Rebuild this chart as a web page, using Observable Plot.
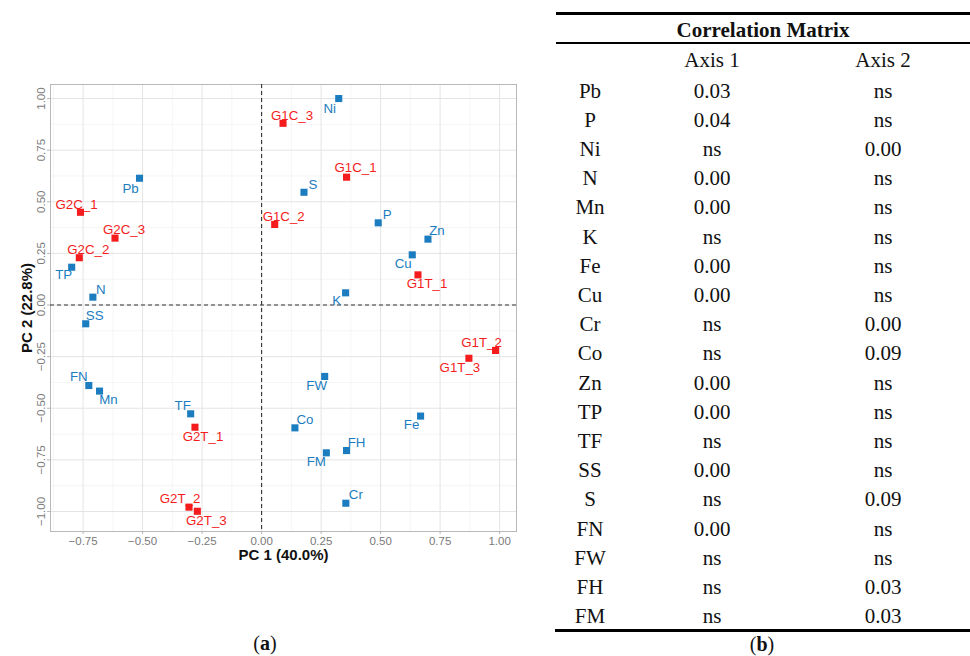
<!DOCTYPE html>
<html><head><meta charset="utf-8">
<script src="https://cdn.jsdelivr.net/npm/d3@7"></script>
<script src="https://cdn.jsdelivr.net/npm/@observablehq/plot@0.6"></script>
<style>
body{margin:0;background:#fff;}
#wrap{position:relative;width:970px;height:656px;overflow:hidden;font-family:"Liberation Serif","Times New Roman",serif;color:#111;}
#chart{position:absolute;left:0;top:0;}
.rule{position:absolute;background:#000;}
.cell{position:absolute;height:26px;line-height:26px;text-align:center;font-size:21px;white-space:nowrap;}
.cap{position:absolute;width:80px;height:26px;line-height:26px;text-align:center;font-size:20px;}
</style></head><body>
<div id="wrap"><div id="chart"></div></div>
<script>
// ---- PCA biplot data ----
const varNames = ["Ni","Pb","S","P","Zn","Cu","K","TP","N","SS","FN","Mn","TF","FW","Co","FH","FM","Cr","Fe"];
const varPC1   = [0.324,-0.513,0.178,0.490,0.699,0.633,0.353,-0.798,-0.709,-0.739,-0.726,-0.681,-0.298,0.265,0.140,0.357,0.272,0.354,0.668];
const varPC2   = [1.000,0.614,0.546,0.398,0.319,0.243,0.059,0.183,0.038,-0.091,-0.390,-0.417,-0.527,-0.346,-0.595,-0.705,-0.716,-0.960,-0.538];

const sampleNames = ["G1C_3","G1C_1","G1C_2","G1T_1","G2C_1","G2C_3","G2C_2","G2T_1","G2T_2","G2T_3","G1T_2","G1T_3"];
const samplePC1   = [0.090,0.357,0.055,0.657,-0.761,-0.616,-0.766,-0.280,-0.305,-0.270,0.983,0.871];
const samplePC2   = [0.880,0.619,0.390,0.146,0.449,0.324,0.229,-0.592,-0.979,-0.999,-0.220,-0.258];

const axisXTitle = "PC 1 (40.0%)";
const axisYTitle = "PC 2 (22.8%)";
const majorTicksX = [-0.75,-0.5,-0.25,0,0.25,0.5,0.75,1];
const majorTicksY = [-1,-0.75,-0.5,-0.25,0,0.25,0.5,0.75,1];
const minorTicks  = [-0.875,-0.625,-0.375,-0.125,0.125,0.375,0.625,0.875];

// ---- Correlation table data ----
const tableTitle = "Correlation Matrix";
const tableHeader = ["", "Axis 1", "Axis 2"];
const rowNames = ["Pb","P","Ni","N","Mn","K","Fe","Cu","Cr","Co","Zn","TP","TF","SS","S","FN","FW","FH","FM"];
const axis1Col = ["0.03","0.04","ns","0.00","0.00","ns","0.00","0.00","ns","ns","0.00","0.00","ns","0.00","ns","0.00","ns","ns","ns"];
const axis2Col = ["ns","ns","0.00","ns","ns","ns","ns","ns","0.00","0.09","ns","ns","ns","ns","0.09","ns","ns","0.03","0.03"];

// ---- label placement (pixel nudges, layout only) ----
const labelNudge = {
  Ni:[-9,10], Pb:[-9,10], S:[9,-8], P:[9,-8], Zn:[9,-8], Cu:[-9,9], K:[-9,8], TP:[-8,8],
  N:[8,-7], SS:[9,-8], FN:[-10,-9], Mn:[9,9], TF:[-8,-8], FW:[-8,9], Co:[10,-8], FH:[10,-8],
  FM:[-10,9], Cr:[10,-8], Fe:[-9,9],
  G1C_3:[9,-8], G1C_1:[9,-9], G1C_2:[9,-8], G1T_1:[9,9], G2C_1:[-4,-8], G2C_3:[9,-8],
  G2C_2:[9,-8], G2T_1:[8,9], G2T_2:[-9,-8], G2T_3:[9,9], G1T_2:[-14,-8], G1T_3:[-9,9]
};

const BLUE = "#1b7dc0", RED = "#f41c1c";
const vars = varNames.map((n,i)=>({name:n, pc1:varPC1[i], pc2:varPC2[i], col:BLUE}));
const samples = sampleNames.map((n,i)=>({name:n, pc1:samplePC1[i], pc2:samplePC2[i], col:RED}));
const all = [...vars, ...samples];

const labelMarks = all.map(d => Plot.text([d], {
  x:"pc1", y:"pc2", text:"name", fill:d.col, fontSize:13.3,
  dx:labelNudge[d.name][0], dy:labelNudge[d.name][1]
}));

const chart = Plot.plot({
  width:540, height:600,
  marginLeft:50, marginRight:24, marginTop:84, marginBottom:69,
  x:{domain:[-0.887,1.071], label:null},
  y:{domain:[-1.097,1.068], label:null},
  style:{fontFamily:"'Liberation Sans', Arial, sans-serif", background:"#fff", overflow:"visible"},
  marks:[
    Plot.gridX(minorTicks, {stroke:"#f1f1f1", strokeOpacity:1, strokeWidth:0.7}),
    Plot.gridY(minorTicks, {stroke:"#f1f1f1", strokeOpacity:1, strokeWidth:0.7}),
    Plot.gridX(majorTicksX, {stroke:"#e4e4e4", strokeOpacity:1, strokeWidth:1}),
    Plot.gridY(majorTicksY, {stroke:"#e4e4e4", strokeOpacity:1, strokeWidth:1}),
    Plot.frame({stroke:"#b8b8b8", strokeWidth:1}),
    Plot.axisX(majorTicksX, {tickSize:3, tickPadding:2, stroke:"#b8b8b8", fill:"#7a7a7a", fontSize:11.5, tickFormat:d3.format(".2f"), label:null}),
    Plot.axisY(majorTicksY, {tickSize:3, tickPadding:3, tickRotate:-90, stroke:"#b8b8b8", fill:"#7a7a7a", fontSize:11.5, tickFormat:d3.format(".2f"), label:null}),
    Plot.ruleX([0], {stroke:"#333", strokeWidth:1.1, strokeDasharray:"4,3"}),
    Plot.ruleY([0], {stroke:"#333", strokeWidth:1.1, strokeDasharray:"4,3"}),
    Plot.dot(vars, {x:"pc1", y:"pc2", symbol:"square", r:4, fill:BLUE, stroke:"none"}),
    Plot.dot(samples, {x:"pc1", y:"pc2", symbol:"square", r:4, fill:RED, stroke:"none"}),
    ...labelMarks,
    Plot.text([axisXTitle], {frameAnchor:"bottom", lineAnchor:"middle", textAnchor:"middle", dy:24, fontWeight:"bold", fontSize:15, fill:"#111"}),
    Plot.text([axisYTitle], {frameAnchor:"left", lineAnchor:"middle", textAnchor:"middle", dx:-23, rotate:-90, fontWeight:"bold", fontSize:15, fill:"#111"})
  ]
});
document.getElementById("chart").appendChild(chart);

// ---- table ----
const wrap = document.getElementById("wrap");
function rule(x, y, w, h){ const r=document.createElement("div"); r.className="rule"; Object.assign(r.style,{left:x+"px",top:y+"px",width:w+"px",height:h+"px"}); wrap.appendChild(r); }
function cell(txt, cx, cy, bold){ const c=document.createElement("div"); c.className="cell"; c.textContent=txt;
  Object.assign(c.style,{left:(cx-110)+"px",width:"220px",top:(cy-13)+"px",fontWeight:bold?"bold":"normal"}); wrap.appendChild(c); }
rule(556, 12, 414, 2.5);
rule(556, 42, 414, 2);
rule(555, 629, 415, 2.5);
cell(tableTitle, 763, 30, true);
const colX = [590, 712, 883];
tableHeader.forEach((h,i)=>{ if(h) cell(h, colX[i], 60, false); });
rowNames.forEach((n,i)=>{
  const cy = 90.5 + i*29.2;
  cell(n, colX[0], cy); cell(axis1Col[i], colX[1], cy); cell(axis2Col[i], colX[2], cy);
});
// captions
function cap(letter, cx, cy){ const c=document.createElement("div"); c.className="cap"; c.innerHTML="(<b>"+letter+"</b>)";
  Object.assign(c.style,{left:(cx-40)+"px",top:(cy-13)+"px"}); wrap.appendChild(c); }
cap("a", 265, 643);
cap("b", 762, 644);
</script>
</body></html>
